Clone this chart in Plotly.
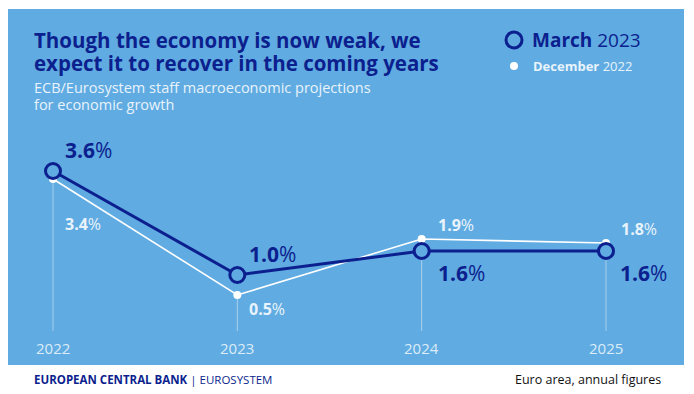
import plotly.graph_objects as go

years = [2022, 2023, 2024, 2025]
year_labels = ["2022", "2023", "2024", "2025"]
march_2023 = [3.6, 1.0, 1.6, 1.6]
december_2022 = [3.4, 0.5, 1.9, 1.8]

# page body has an 8px margin: draw figure shifted to compensate
OFF = 8
W, H = 694 - OFF, 394 - OFF
NAVY = "#0c1f8e"
BG = "#60abe1"
LIGHT = "#e8f3fc"

def px(x):
    return (x - OFF) / W

def py(y):
    return 1 - (y - OFF) / H

# pixel -> data mapping of the plot region (reference pixel coords)
x_px0, x_px1 = 53, 606          # pixel of 2022 and 2025
ppx = (x_px1 - x_px0) / 3.0
xr = [2022 - (x_px0 - OFF) / ppx, 2022 + (694 - x_px0) / ppx]
y0_px, ppy = 315, 40.0          # pixel of value 0, px per unit
yr = [(y0_px - 394) / ppy, (y0_px - OFF) / ppy]
base_v = (y0_px - 331) / ppy    # bottom of drop lines
tick_v = (y0_px - 348) / ppy

fig = go.Figure()

# drop lines
for yr_, m, d in zip(years, march_2023, december_2022):
    fig.add_shape(type="line", xref="x", yref="y", x0=yr_, x1=yr_,
                  y0=base_v, y1=min(m, d),
                  line=dict(color="rgba(255,255,255,0.45)", width=1), layer="below")

fig.add_trace(go.Scatter(
    x=years, y=december_2022, mode="lines+markers",
    line=dict(color="white", width=1.6),
    marker=dict(size=8, color="white"),
    hoverinfo="skip", showlegend=False))
fig.add_trace(go.Scatter(
    x=years, y=march_2023, mode="lines+markers",
    line=dict(color=NAVY, width=3),
    marker=dict(size=15, color=BG, line=dict(color=NAVY, width=3)),
    hoverinfo="skip", showlegend=False))

# value labels (offsets in px)
m_off = [(10, 21), (10, 21), (14, -22), (12, -22)]
d_off = [(10, -45), (10, -14), (14, 14), (13, 14)]
for yv, v, (dx, dy) in zip(years, march_2023, m_off):
    fig.add_annotation(x=yv, y=v, xref="x", yref="y", text=f"<b>{v:.1f}</b>%",
                       showarrow=False, xanchor="left", yanchor="middle",
                       xshift=dx, yshift=dy,
                       font=dict(family="Open Sans", size=21, color=NAVY))
for yv, v, (dx, dy) in zip(years, december_2022, d_off):
    fig.add_annotation(x=yv, y=v, xref="x", yref="y", text=f"<b>{v:.1f}</b>%",
                       showarrow=False, xanchor="left", yanchor="middle",
                       xshift=dx, yshift=dy,
                       font=dict(family="Open Sans", size=16, color=LIGHT))

# year tick labels
for yv, lab in zip(years, year_labels):
    fig.add_annotation(x=yv, y=tick_v, xref="x", yref="y", text=lab,
                       showarrow=False, xanchor="center", yanchor="middle",
                       font=dict(family="Open Sans", size=15, color="#dcebf8"))

# background panel
fig.add_shape(type="rect", xref="paper", yref="paper",
              x0=px(7), x1=px(684), y0=py(365), y1=py(9),
              fillcolor=BG, line=dict(width=0), layer="below")

# title & subtitle (base size sets the tight line spacing, span sets glyph size)
title_lines = ["Though the economy is now weak, we",
               "expect it to recover in the coming years"]
sub_lines = ["ECB/Eurosystem staff macroeconomic projections",
             "for economic growth"]
fig.add_annotation(x=px(32), y=py(51.5), xref="paper", yref="paper",
                   text="<br>".join(f'<span style="font-size:20.5px"><b>{t}</b></span>'
                                    for t in title_lines),
                   showarrow=False, xanchor="left", yanchor="middle", align="left",
                   font=dict(family="Open Sans", size=17.7, color=NAVY))
fig.add_annotation(x=px(32), y=py(95.5), xref="paper", yref="paper",
                   text="<br>".join(f'<span style="font-size:14.5px">{t}</span>'
                                    for t in sub_lines),
                   showarrow=False, xanchor="left", yanchor="middle", align="left",
                   font=dict(family="Open Sans", size=13.1, color=LIGHT))

# legend
fig.add_shape(type="circle", xref="paper", yref="paper",
              x0=px(506), x1=px(522), y0=py(48), y1=py(32),
              fillcolor=BG, line=dict(color=NAVY, width=3))
fig.add_annotation(x=px(530), y=py(40), xref="paper", yref="paper",
                   text="<b>March</b> 2023", showarrow=False, xanchor="left", yanchor="middle",
                   font=dict(family="Open Sans", size=19, color=NAVY))
fig.add_shape(type="circle", xref="paper", yref="paper",
              x0=px(510), x1=px(518), y0=py(70), y1=py(62),
              fillcolor="white", line=dict(width=0))
fig.add_annotation(x=px(531), y=py(66), xref="paper", yref="paper",
                   text="<b>December</b> 2022", showarrow=False, xanchor="left", yanchor="middle",
                   font=dict(family="Open Sans", size=13, color=LIGHT))

# footer
fig.add_annotation(x=px(32), y=py(379), xref="paper", yref="paper",
                   text="<b>EUROPEAN CENTRAL BANK</b> | EUROSYSTEM", showarrow=False,
                   xanchor="left", yanchor="middle",
                   font=dict(family="Open Sans", size=11.5, color=NAVY))
fig.add_annotation(x=px(663), y=py(379), xref="paper", yref="paper",
                   text="Euro area, annual figures", showarrow=False,
                   xanchor="right", yanchor="middle",
                   font=dict(family="Open Sans", size=12.5, color="#111111"))

fig.update_layout(
    width=W, height=H, margin=dict(l=0, r=0, t=0, b=0),
    paper_bgcolor="white", plot_bgcolor="rgba(0,0,0,0)",
    xaxis=dict(range=xr, visible=False, fixedrange=True),
    yaxis=dict(range=yr, visible=False, fixedrange=True),
    showlegend=False,
)

fig.write_html("out.html")
